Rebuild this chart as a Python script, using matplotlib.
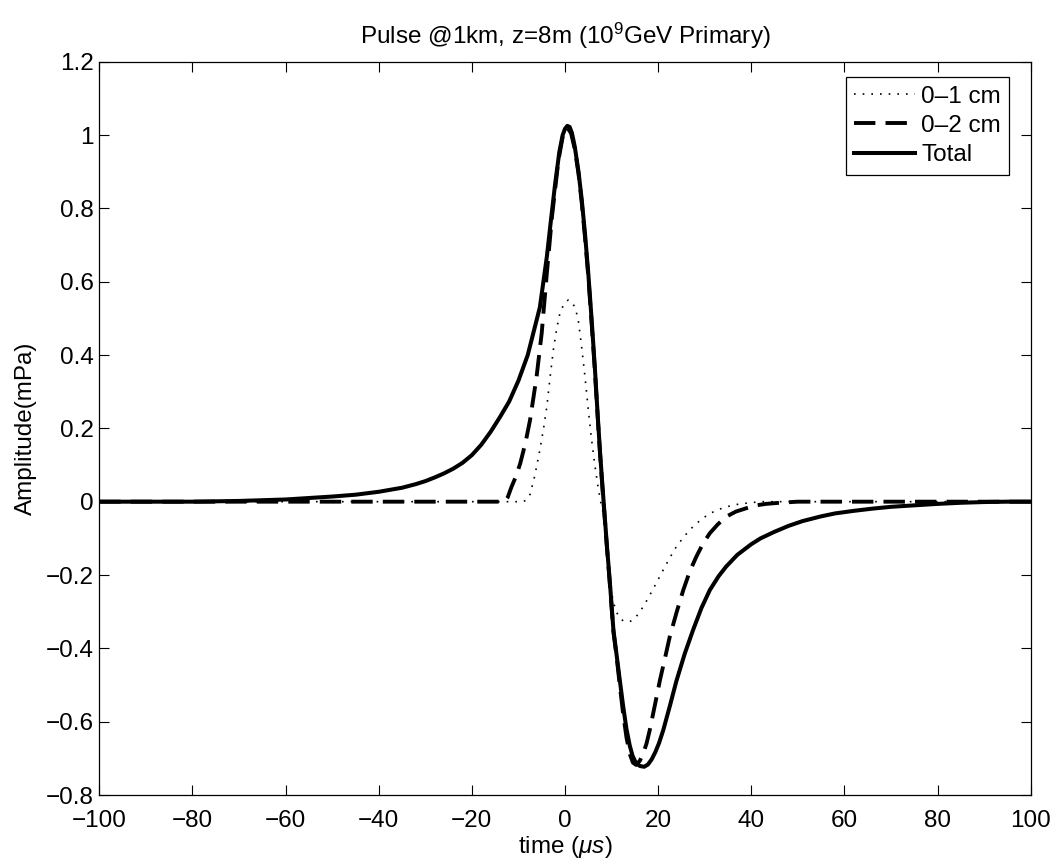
import numpy as np
import matplotlib
matplotlib.use("Agg")
import matplotlib.pyplot as plt
from matplotlib.ticker import FuncFormatter, MultipleLocator


# values
t_total = [-100, -80, -70, -60, -55, -50, -45, -40, -35, -32, -30, -28, -26, -24,
           -22, -20, -18, -16, -14, -12, -10, -8, -6.8, -5.4, -3.9, -3, -2.1,
           -1.2, -0.5, 0, 0.5, 1.0, 1.5, 2.1, 2.9, 3.6, 4.3, 5.0, 5.7, 6.4, 7.0,
           7.5, 8.0, 8.5, 9.0, 9.6, 10.4, 11.1, 11.8, 12.5, 13.2, 13.9, 14.5, 15.2,
           16.1, 17.0, 17.8, 18.6, 19.4, 20.2, 21.1, 22.5, 23.9, 25.7, 27.5, 29.3,
           31.1, 33.0, 34.6, 37, 40, 42, 45, 48, 51, 55, 58, 62, 66, 70, 75, 80,
           85, 90, 95, 100]
a_total = [0, 0, 0.002, 0.006, 0.010, 0.014, 0.019, 0.027, 0.038, 0.048, 0.056,
           0.066, 0.077, 0.090, 0.106, 0.127, 0.155, 0.19, 0.23, 0.273, 0.33, 0.40,
           0.46, 0.53, 0.668, 0.77, 0.869, 0.955, 1.00, 1.017, 1.025, 1.022, 1.005,
           0.968, 0.90, 0.823, 0.73, 0.623, 0.50, 0.368, 0.24, 0.14, 0.05, -0.035,
           -0.12, -0.214, -0.35, -0.42, -0.49, -0.559, -0.62, -0.665, -0.693,
           -0.712, -0.721, -0.723, -0.717, -0.703, -0.683, -0.658, -0.623, -0.558,
           -0.49, -0.415, -0.35, -0.29, -0.241, -0.203, -0.177, -0.145, -0.116,
           -0.100, -0.082, -0.066, -0.053, -0.040, -0.032, -0.025, -0.019, -0.014,
           -0.010, -0.006, -0.003, -0.001, 0, 0]

t_2cm = [-100, -13, -12.3, -11.5, -10.5, -9.6, -8.5, -7.5, -6.1, -5.0, -3.9, -2.8,
         -1.4, -0.5, 0.5, 1.3, 2.1, 2.9, 3.6, 4.3, 5.0, 5.7, 6.4, 7.0, 7.5, 8.0,
         8.5, 9.0, 9.6, 10.4, 11.1, 11.8, 12.5, 13.2, 13.9, 14.6, 15.3, 16.1,
         16.8, 17.5, 18.2, 19.3, 20.4, 21.5, 22.5, 24.0, 25.4, 26.8, 28.2, 29.6,
         31.1, 32.8, 34.6, 36.7, 38.9, 41, 43.2, 46, 50, 100]
a_2cm = [0, 0, 0.012, 0.04, 0.07, 0.105, 0.16, 0.223, 0.341, 0.46, 0.623, 0.777,
         0.932, 0.995, 1.02, 1.005, 0.962, 0.895, 0.815, 0.72, 0.615, 0.49, 0.36,
         0.235, 0.135, 0.045, -0.04, -0.125, -0.22, -0.355, -0.425, -0.505, -0.58,
         -0.643, -0.688, -0.712, -0.718, -0.706, -0.686, -0.66, -0.623, -0.555,
         -0.486, -0.425, -0.368, -0.30, -0.241, -0.19, -0.15, -0.115, -0.086,
         -0.062, -0.041, -0.027, -0.018, -0.01, -0.006, -0.003, 0, 0]

t_1cm = [-100, -9, -8.2, -7.5, -6.5, -5.4, -4.6, -3.9, -3.2, -2.5, -1.8, -1.1,
         -0.2, 0.7, 1.5, 2.3, 2.9, 3.5, 4.3, 5.0, 5.7, 6.4, 7.1, 7.8, 8.6, 9.0,
         9.6, 10.3, 11.0, 11.8, 12.6, 13.5, 14.3, 15.2, 16.1, 17.1, 18.2, 19.6,
         21.1, 22.5, 23.9, 25.7, 27.5, 29.3, 31.1, 33.5, 36.1, 39, 42, 100]
a_1cm = [0, 0, 0.005, 0.02, 0.07, 0.141, 0.20, 0.259, 0.34, 0.414, 0.47, 0.514,
         0.54, 0.55, 0.545, 0.525, 0.49, 0.43, 0.34, 0.25, 0.17, 0.10, 0.04,
         -0.01, -0.05, -0.12, -0.21, -0.27, -0.30, -0.318, -0.326, -0.328, -0.325,
         -0.315, -0.30, -0.28, -0.255, -0.222, -0.186, -0.153, -0.123, -0.093,
         -0.068, -0.048, -0.032, -0.019, -0.009, -0.004, 0, 0]

plt.rcParams["font.family"] = ["Liberation Sans", "DejaVu Sans"]
plt.rcParams["mathtext.fontset"] = "custom"
plt.rcParams["mathtext.rm"] = "Liberation Sans"
plt.rcParams["mathtext.it"] = "Liberation Sans:italic"

FS = 17.5

fig = plt.figure(figsize=(10.58, 8.65), dpi=100)
ax = fig.add_axes([99.3 / 1058, 1 - 795 / 865, 931.4 / 1058, 733.3 / 865])

ax.plot(t_1cm, a_1cm, color="black", lw=1.2, linestyle=(0, (1, 4.2)), label="0–1 cm")
ax.plot(t_2cm, a_2cm, color="black", lw=2.8, linestyle=(0, (5.5, 2.6)), label="0–2 cm")
ax.plot(t_total, a_total, color="black", lw=2.9, linestyle="-", label="Total")

ax.set_xlim(-100, 100)
ax.set_ylim(-0.8, 1.2)
ax.xaxis.set_major_locator(MultipleLocator(20))
ax.yaxis.set_major_locator(MultipleLocator(0.2))
fmt = FuncFormatter(lambda v, p: ("%g" % round(v, 6)).replace("-", "\u2212"))
ax.xaxis.set_major_formatter(fmt)
ax.yaxis.set_major_formatter(fmt)
ax.tick_params(direction="in", length=7, width=0.8, labelsize=FS,
               top=True, right=True)
ax.tick_params(axis="x", pad=11)
ax.tick_params(axis="y", pad=4)
for sp in ax.spines.values():
    sp.set_linewidth(0.9)

ax.set_title("Pulse @1km, z=8m (10$^9$GeV Primary)", fontsize=FS, pad=13)
ax.set_xlabel(r"time ($\mu s$)", fontsize=FS, labelpad=1)
ax.set_ylabel("Amplitude(mPa)", fontsize=FS, labelpad=6)

leg = ax.legend(loc="upper right", bbox_to_anchor=(0.977, 0.979), borderaxespad=0,
                fontsize=FS, handlelength=2.5, handletextpad=0.25, labelspacing=0.3,
                borderpad=0.35, fancybox=False, framealpha=1, edgecolor="black")
leg.get_frame().set_linewidth(0.9)

fig.savefig("out.png", dpi=100)
